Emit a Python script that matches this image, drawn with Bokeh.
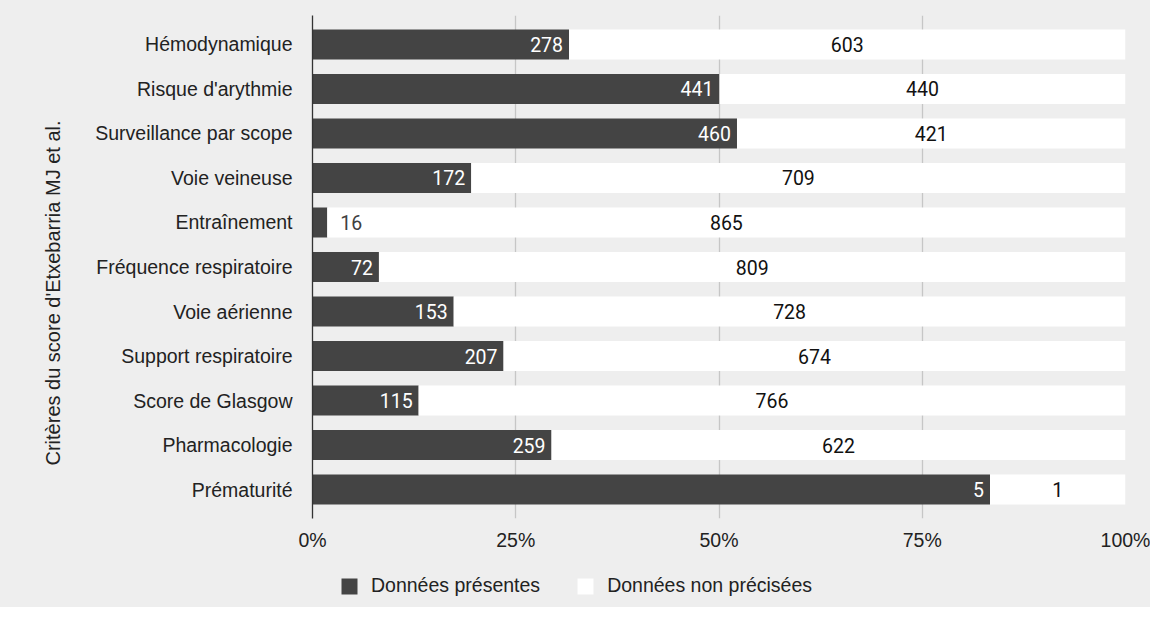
from bokeh.plotting import figure
from bokeh.layouts import column
from bokeh.models import (ColumnDataSource, FactorRange, Range1d, FixedTicker,
                          NumeralTickFormatter, Legend, LegendItem, Title)
from bokeh.core.properties import value
from bokeh.embed import file_html
from bokeh.resources import INLINE

categories = ["Hémodynamique", "Risque d'arythmie", "Surveillance par scope",
              "Voie veineuse", "Entraînement", "Fréquence respiratoire",
              "Voie aérienne", "Support respiratoire", "Score de Glasgow",
              "Pharmacologie", "Prématurité"]
present = [278, 441, 460, 172, 16, 72, 153, 207, 115, 259, 5]
missing = [603, 440, 421, 709, 865, 809, 728, 674, 766, 622, 1]
series_names = ["Données présentes", "Données non précisées"]
x_ticks = [0, 0.25, 0.5, 0.75, 1.0]
axis_title = "Critères du score d'Etxebarria MJ et al."

DARK = "#444444"
WHITE = "#ffffff"
BG = "#eeeeee"
FS = "19.5px"
W = 1150

totals = [a + b for a, b in zip(present, missing)]
p_frac = [a / t for a, t in zip(present, totals)]

src = ColumnDataSource(dict(
    cat=categories,
    left0=[0] * len(categories),
    p=p_frac,
    one=[1] * len(categories),
    mid=[(f + 1) / 2 for f in p_frac],
    mlab=[str(v) for v in missing],
))

inside = [i for i, f in enumerate(p_frac) if f >= 0.04]
outside = [i for i, f in enumerate(p_frac) if f < 0.04]
src_in = ColumnDataSource(dict(cat=[categories[i] for i in inside],
                               x=[p_frac[i] for i in inside],
                               t=[str(present[i]) for i in inside]))
src_out = ColumnDataSource(dict(cat=[categories[i] for i in outside],
                                x=[p_frac[i] for i in outside],
                                t=[str(present[i]) for i in outside]))

p = figure(width=W, height=555, output_backend="svg", toolbar_location=None,
           y_range=FactorRange(factors=list(reversed(categories)),
                               range_padding=0.15, range_padding_units="absolute"),
           x_range=Range1d(0, 1),
           min_border_left=312, min_border_right=25, min_border_top=15,
           min_border_bottom=37)
p.background_fill_color = BG
p.border_fill_color = BG
p.outline_line_color = None

p.hbar(y="cat", left="left0", right="p", height=0.674, source=src,
       fill_color=DARK, line_color=None)
p.hbar(y="cat", left="p", right="one", height=0.674, source=src,
       fill_color=WHITE, line_color=None)

p.text(x="x", y="cat", text="t", source=src_in, text_align="right",
       text_baseline="middle", x_offset=-6, text_color="#ffffff",
       text_font=value("Roboto"), text_font_size=FS)
p.text(x="x", y="cat", text="t", source=src_out, text_align="left",
       text_baseline="middle", x_offset=13, text_color="#404040",
       text_font=value("Roboto"), text_font_size=FS)
p.text(x="mid", y="cat", text="mlab", source=src, text_align="center",
       text_baseline="middle", text_color="#111111",
       text_font=value("Roboto"), text_font_size=FS)

p.xgrid.ticker = FixedTicker(ticks=x_ticks)
p.xgrid.grid_line_color = "#c6c6c6"
p.xgrid.grid_line_width = 1.3
p.ygrid.grid_line_color = None

p.xaxis.ticker = FixedTicker(ticks=x_ticks)
p.xaxis.formatter = NumeralTickFormatter(format="0%")
p.xaxis.axis_line_color = None
p.xaxis.major_tick_line_color = None
p.xaxis.minor_tick_line_color = None
p.xaxis.major_label_standoff = 4
p.xaxis.major_label_text_font = "Liberation Sans"
p.xaxis.major_label_text_font_size = FS
p.xaxis.major_label_text_color = "#222222"

p.yaxis.axis_line_color = "#333333"
p.yaxis.axis_line_width = 1.3
p.yaxis.major_tick_line_color = None
p.yaxis.minor_tick_line_color = None
p.yaxis.major_label_standoff = 14
p.yaxis.major_label_text_font = "Liberation Sans"
p.yaxis.major_label_text_font_size = FS
p.yaxis.major_label_text_color = "#222222"

title = Title(text=axis_title, align="left", offset=53,
              text_font="Liberation Sans", text_font_size="20px",
              text_font_style="normal", text_color="#222222", standoff=58)
p.add_layout(title, "left")

# legend strip below the chart (its bars have zero height and lie outside its view)
lg = figure(width=W, height=52, output_backend="svg", toolbar_location=None,
            x_range=Range1d(2, 3),
            y_range=FactorRange(factors=list(reversed(categories))),
            x_axis_type=None, y_axis_type=None,
            min_border_left=0, min_border_right=0, min_border_top=0,
            min_border_bottom=0)
lg.background_fill_alpha = 0
lg.border_fill_color = BG
lg.outline_line_color = None
lg.grid.visible = False
d1 = lg.hbar(y="cat", left="left0", right="p", height=0, source=src,
             fill_color=DARK, line_color=None)
d2 = lg.hbar(y="cat", left="p", right="one", height=0, source=src,
             fill_color=WHITE, line_color=None)
legend = Legend(items=[LegendItem(label=series_names[0], renderers=[d1]),
                       LegendItem(label=series_names[1], renderers=[d2])],
                location=(27, 10), orientation="horizontal",
                glyph_width=20, glyph_height=20, label_standoff=12, spacing=35,
                padding=0, margin=0, border_line_color=None,
                background_fill_alpha=0,
                label_text_font="Liberation Sans", label_text_font_size=FS,
                label_text_color="#222222", label_height=20)
lg.add_layout(legend)

layout = column(p, lg, spacing=0, styles={"background-color": BG})
open("out.html", "w").write(file_html(layout, INLINE))
